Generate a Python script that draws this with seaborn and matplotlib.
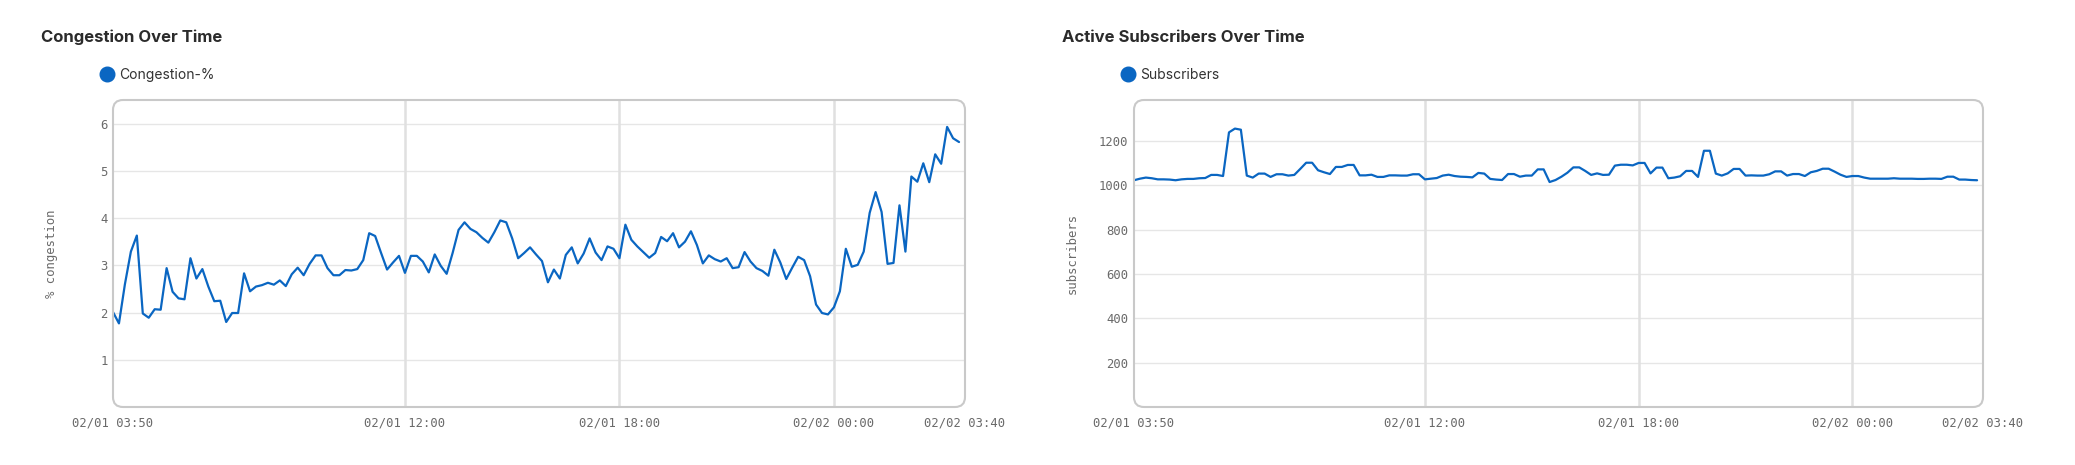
import numpy as np
import pandas as pd
import seaborn as sns
import matplotlib.pyplot as plt
import matplotlib.dates as mdates
from matplotlib.lines import Line2D
from matplotlib.patches import FancyBboxPatch

# values, one point every 10 minutes from 02/01 03:50
congestion = [
    2.01, 1.77, 2.60, 3.29, 3.63, 1.98, 1.89, 2.07, 2.06, 2.94,
    2.44, 2.30, 2.28, 3.15, 2.72, 2.92, 2.55, 2.24, 2.25, 1.80,
    1.99, 1.99, 2.83, 2.45, 2.55, 2.58, 2.63, 2.59, 2.68, 2.56,
    2.81, 2.95, 2.79, 3.03, 3.21, 3.21, 2.94, 2.79, 2.79, 2.90,
    2.89, 2.92, 3.11, 3.68, 3.62, 3.26, 2.91, 3.06, 3.20, 2.84,
    3.20, 3.20, 3.08, 2.85, 3.23, 2.99, 2.82, 3.26, 3.75, 3.91,
    3.77, 3.70, 3.58, 3.48, 3.70, 3.95, 3.91, 3.57, 3.15, 3.26,
    3.38, 3.23, 3.09, 2.64, 2.91, 2.72, 3.22, 3.38, 3.04, 3.25,
    3.57, 3.27, 3.11, 3.40, 3.35, 3.15, 3.86, 3.54, 3.40, 3.28,
    3.16, 3.26, 3.60, 3.51, 3.68, 3.38, 3.50, 3.72, 3.43, 3.04,
    3.21, 3.13, 3.08, 3.15, 2.94, 2.96, 3.28, 3.08, 2.94, 2.88,
    2.78, 3.33, 3.06, 2.71, 2.95, 3.18, 3.11, 2.77, 2.17, 1.99,
    1.96, 2.11, 2.45, 3.35, 2.97, 3.01, 3.29, 4.11, 4.55, 4.13,
    3.03, 3.05, 4.27, 3.29, 4.88, 4.77, 5.16, 4.76, 5.35, 5.15,
    5.93, 5.69, 5.61,
]
subscribers = [
    1023, 1030, 1035, 1032, 1027, 1027, 1026, 1023, 1027, 1029,
    1029, 1032, 1033, 1047, 1047, 1042, 1239, 1256, 1251, 1044,
    1035, 1053, 1053, 1038, 1050, 1050, 1044, 1047, 1074, 1102,
    1102, 1068, 1059, 1051, 1083, 1083, 1092, 1092, 1045, 1045,
    1048, 1038, 1038, 1045, 1045, 1044, 1044, 1050, 1050, 1027,
    1030, 1033, 1044, 1048, 1042, 1039, 1038, 1036, 1056, 1053,
    1029, 1026, 1024, 1051, 1051, 1039, 1044, 1044, 1072, 1072,
    1015, 1024, 1039, 1057, 1081, 1081, 1065, 1047, 1054, 1047,
    1048, 1089, 1093, 1093, 1090, 1101, 1101, 1054, 1080, 1080,
    1032, 1035, 1041, 1065, 1065, 1038, 1156, 1156, 1053, 1044,
    1054, 1074, 1074, 1044, 1045, 1044, 1044, 1050, 1063, 1063,
    1044, 1051, 1051, 1042, 1059, 1065, 1075, 1075, 1062, 1048,
    1038, 1042, 1042, 1035, 1030, 1030, 1030, 1030, 1032, 1030,
    1030, 1030, 1029, 1029, 1030, 1030, 1029, 1039, 1039, 1026,
    1026, 1024, 1023,
]
start = "2024-02-01 03:50"
x_end = "2024-02-02 03:40"
mid_ticks = ["2024-02-01 12:00", "2024-02-01 18:00", "2024-02-02 00:00"]

times = pd.date_range(start, periods=len(congestion), freq="10min")
df = pd.DataFrame({"time": times, "congestion": congestion, "subscribers": subscribers})

blue = "#0a66c2"
sns.set_style("white")
plt.rcParams["font.family"] = ["Inter", "DejaVu Sans"]

W, H = 20.75, 4.65
fig = plt.figure(figsize=(W, H), dpi=100)
ax1 = fig.add_axes([113 / 2075, 58 / 465, 852 / 2075, 307 / 465])
ax2 = fig.add_axes([1134 / 2075, 58 / 465, 849 / 2075, 307 / 465])

panels = [
    (ax1, "congestion", "Congestion Over Time", "Congestion-%", "% congestion", 6.5, [1, 2, 3, 4, 5, 6]),
    (ax2, "subscribers", "Active Subscribers Over Time", "Subscribers", "subscribers", 1385,
     [200, 400, 600, 800, 1000, 1200]),
]

tick_times = pd.to_datetime([start] + mid_ticks + [x_end])

for ax, col, title, leg, ylab, ytop, yticks in panels:
    sns.lineplot(data=df, x="time", y=col, ax=ax, color=blue, lw=1.6, zorder=3)
    ax.set_xlim(pd.Timestamp(start), pd.Timestamp(x_end))
    ax.set_ylim(0, ytop)
    ax.set_yticks(yticks)
    ax.set_xticks(tick_times)
    ax.xaxis.set_major_formatter(mdates.DateFormatter("%m/%d %H:%M"))
    for s in ax.spines.values():
        s.set_visible(False)
    ax.grid(axis="y", color="#e6e6e6", lw=1.0)
    for t in pd.to_datetime(mid_ticks):
        ax.axvline(t, color="#e0e0e0", lw=1.8, zorder=1)
    ax.tick_params(length=0, labelsize=8.8, labelcolor="#6a6a6a")
    ax.tick_params(axis="x", pad=7)
    ax.tick_params(axis="y", pad=4)
    for lab in ax.get_xticklabels() + ax.get_yticklabels():
        lab.set_family("DejaVu Sans Mono")
    ax.set_xlabel("")
    ax.set_ylabel(ylab, family="DejaVu Sans Mono", fontsize=8.8, color="#6a6a6a")
    ax.yaxis.set_label_coords(-0.065, 0.5)

    ax.text(-0.0845, 1.205, title, transform=ax.transAxes, fontsize=12,
            fontweight="bold", color="#2b2b2b", va="center", ha="left")

    handle = Line2D([], [], marker="o", ls="", color=blue, markersize=10.5)
    ax.legend([handle], [leg], loc="center left", bbox_to_anchor=(-0.0135, 1.081),
              frameon=False, handlelength=0.8, handletextpad=0.45, borderpad=0,
              borderaxespad=0, prop={"family": "Inter", "size": 10},
              labelcolor="#333333")

    pos = ax.get_position()
    frame = FancyBboxPatch((pos.x0 * W, pos.y0 * H), pos.width * W, pos.height * H,
                           boxstyle="round,pad=0,rounding_size=0.1",
                           transform=fig.dpi_scale_trans, fill=False,
                           ec="#c9c9c9", lw=1.5)
    fig.add_artist(frame)

fig.savefig("out.png", dpi=100, facecolor="white")
